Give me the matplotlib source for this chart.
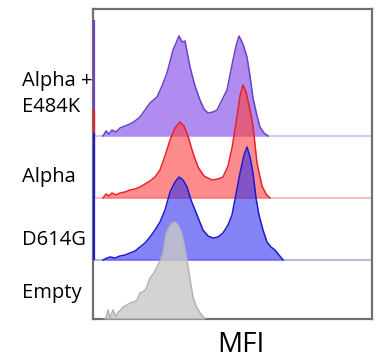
import matplotlib.pyplot as plt

# flow histograms, channel units (x) and counts (h)
samples = ['Empty', 'D614G', 'Alpha', 'Alpha +\nE484K']

empty_x = [11, 13, 15, 17, 20, 23, 25, 27, 30, 34, 37, 41, 44, 47, 50, 53, 57, 61, 64, 67,
           70, 73, 76, 79, 82, 85, 88, 91, 94, 97, 100, 103, 107, 112]
empty_h = [0, 1, 9, 1, 9, 2, 7, 8, 12, 14, 16, 17, 19, 26, 27, 30, 41, 46, 52, 58,
           66, 85, 92, 96, 97, 94, 88, 75, 58, 40, 22, 13, 6, 0]

d614g_x = [10, 14, 17, 22, 27, 32, 37, 42, 47, 52, 57, 62, 67, 72, 77, 82, 86, 90, 94, 98,
           102, 106, 110, 115, 120, 125, 130, 135, 139, 143, 147, 151, 154, 157, 160, 163,
           166, 170, 174, 178, 182, 186, 190]
d614g_h = [0, 2, 3, 2, 4, 5, 7, 9, 13, 17, 23, 30, 38, 50, 68, 78, 83, 80, 73, 60,
           50, 40, 30, 24, 22, 23, 27, 35, 45, 66, 87, 105, 113, 103, 87, 62,
           45, 30, 18, 13, 10, 5, 0]

alpha_x = [10, 13, 16, 19, 23, 27, 32, 37, 42, 47, 52, 57, 62, 67, 72, 77, 82, 87, 91, 95,
           100, 105, 111, 119, 125, 130, 135, 139, 143, 147, 150, 153, 157, 160, 164, 169, 173, 177]
alpha_h = [0, 4, 2, 5, 3, 5, 6, 8, 9, 11, 14, 17, 21, 28, 42, 58, 70, 76, 72, 62,
           45, 31, 22, 18, 19, 21, 32, 50, 75, 102, 113, 106, 88, 72, 35, 12, 4, 0]

e484k_x = [10, 13, 16, 19, 23, 27, 32, 37, 42, 47, 52, 57, 64, 69, 74, 80, 86, 89, 92, 97,
           102, 107, 111, 115, 120, 124, 129, 134, 140, 143, 146, 150, 154, 157, 160, 164,
           167, 171, 175]
e484k_h = [0, 5, 2, 6, 4, 8, 10, 12, 15, 19, 26, 33, 39, 50, 63, 86, 100, 94, 95, 69,
           50, 36, 27, 23, 24, 26, 36, 46, 76, 90, 100, 92, 79, 60, 38, 20, 9, 3, 0]

# events piled up at channel 0
spike_h = [0, 127, 88, 116]

offsets = [0, 59, 121, 183]
fills = ['#c8c8c8', '#3030f0', '#ff4040', '#b08cf0']
edges = ['#b4b4b4', '#1c1cc8', '#e8202a', '#6a40c8']
alphas = [0.8, 0.6, 0.6, 1.0]
base_cols = [None, '#b8b8f4', '#f4c0c0', '#d8c8f0']
label_y = [293, 240, 177, 94]

data = [(empty_x, empty_h), (d614g_x, d614g_h), (alpha_x, alpha_h), (e484k_x, e484k_h)]

plt.rcParams['font.family'] = ['Open Sans', 'DejaVu Sans']

fig = plt.figure(figsize=(3.83, 3.62), dpi=100)
ax = fig.add_axes([93 / 383, 43 / 362, 279 / 383, 310 / 362])
ax.set_xlim(0, 279)
ax.set_ylim(0, 310)

# top lane first so lower lanes overlap it
for i in [3, 2, 1, 0]:
    x, h = data[i]
    off = offsets[i]
    if base_cols[i]:
        ax.axhline(off, color=base_cols[i], lw=1.5, zorder=1)
    y = [v + off for v in h]
    ax.fill_between(x, off, y, color=fills[i], alpha=alphas[i], lw=0, zorder=2 + 4 - i)
    ax.plot(x, y, color=edges[i], lw=1.1, zorder=2 + 4 - i)
    if spike_h[i]:
        ax.vlines(1.2, off, off + spike_h[i], color=edges[i], lw=1.6, zorder=2 + 4 - i)

for s, yy in zip(samples, label_y):
    fig.text(22 / 383, 1 - yy / 362, s, ha='left', va='center', fontsize=14.5,
             linespacing=1.45)

fig.text(241 / 383, 1 - 345 / 362, 'MFI', ha='center', va='center', fontsize=20)

ax.set_xticks([])
ax.set_yticks([])
for sp in ax.spines.values():
    sp.set_color('#707070')
    sp.set_linewidth(1.6)

fig.savefig('out.png', dpi=100)
